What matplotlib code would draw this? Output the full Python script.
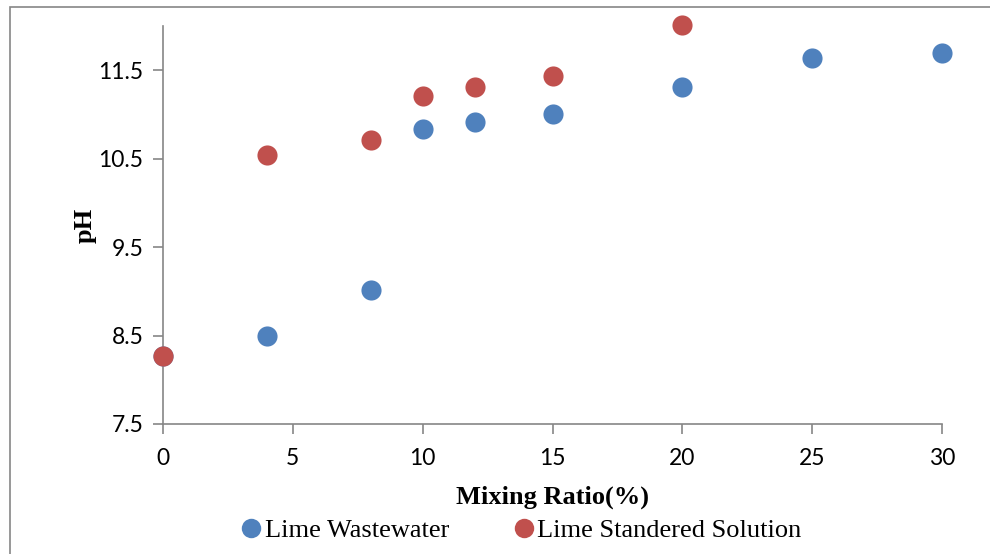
import matplotlib
matplotlib.use("Agg")
import matplotlib.pyplot as plt
from matplotlib.lines import Line2D
from matplotlib.patches import Rectangle

ratio_ww = [0, 4, 8, 10, 12, 15, 20, 25, 30]
ph_ww = [8.27, 8.49, 9.01, 10.83, 10.91, 11.00, 11.31, 11.64, 11.70]
ratio_std = [0, 4, 8, 10, 12, 15, 20]
ph_std = [8.27, 10.54, 10.71, 11.21, 11.31, 11.44, 12.01]
xticks = [0, 5, 10, 15, 20, 25, 30]
yticks = [7.5, 8.5, 9.5, 10.5, 11.5]

blue = "#4F81BD"
red = "#C0504D"
grey = "#868686"

fig = plt.figure(figsize=(9.9, 5.54), dpi=100)
ax = fig.add_axes([163/990, 1-424/554, (942-163)/990, (424-26)/554])

ax.scatter(ratio_ww, ph_ww, s=210, color=blue, zorder=3, linewidths=0, clip_on=False)
ax.scatter(ratio_std, ph_std, s=210, color=red, zorder=4, linewidths=0, clip_on=False)

ax.set_xlim(0, 30)
ax.set_ylim(7.5, 12.0)
ax.set_xticks(xticks)
ax.set_yticks(yticks)
ax.set_xticklabels([str(v) for v in xticks])
ax.set_yticklabels([str(v) for v in yticks])
for s in ["top", "right"]:
    ax.spines[s].set_visible(False)
for s in ["left", "bottom"]:
    ax.spines[s].set_color(grey)
    ax.spines[s].set_linewidth(1.2)
ax.tick_params(axis="both", direction="out", length=7, width=1.2, color=grey,
               labelsize=16.5, pad=7)
for lab in ax.get_xticklabels() + ax.get_yticklabels():
    lab.set_family("Lato")
ax.tick_params(axis="x", pad=10)

ax.set_xlabel("Mixing Ratio(%)", family="Liberation Serif", fontweight="bold",
              fontsize=19, labelpad=12)
ax.set_ylabel("pH", family="Liberation Serif", fontweight="bold",
              fontsize=19, labelpad=1)

handles = [
    Line2D([], [], marker="o", linestyle="", color=blue, markersize=14, markeredgewidth=0),
    Line2D([], [], marker="o", linestyle="", color=red, markersize=14, markeredgewidth=0),
]
fig.legend(handles, ["Lime Wastewater", "Lime Standered Solution"],
           loc="center", bbox_to_anchor=(520/990, 1-530/554), ncol=2,
           frameon=False, prop={"family": "Liberation Serif", "size": 19},
           handletextpad=0.0, columnspacing=2.35, handlelength=1.0,
           borderpad=0, borderaxespad=0)

fig.patches.append(Rectangle((10/990, -0.1), 1.2, 1-7/554+0.1, transform=fig.transFigure,
                             fill=False, edgecolor=grey, linewidth=1.2, zorder=0))

fig.savefig("out.png", dpi=100)
